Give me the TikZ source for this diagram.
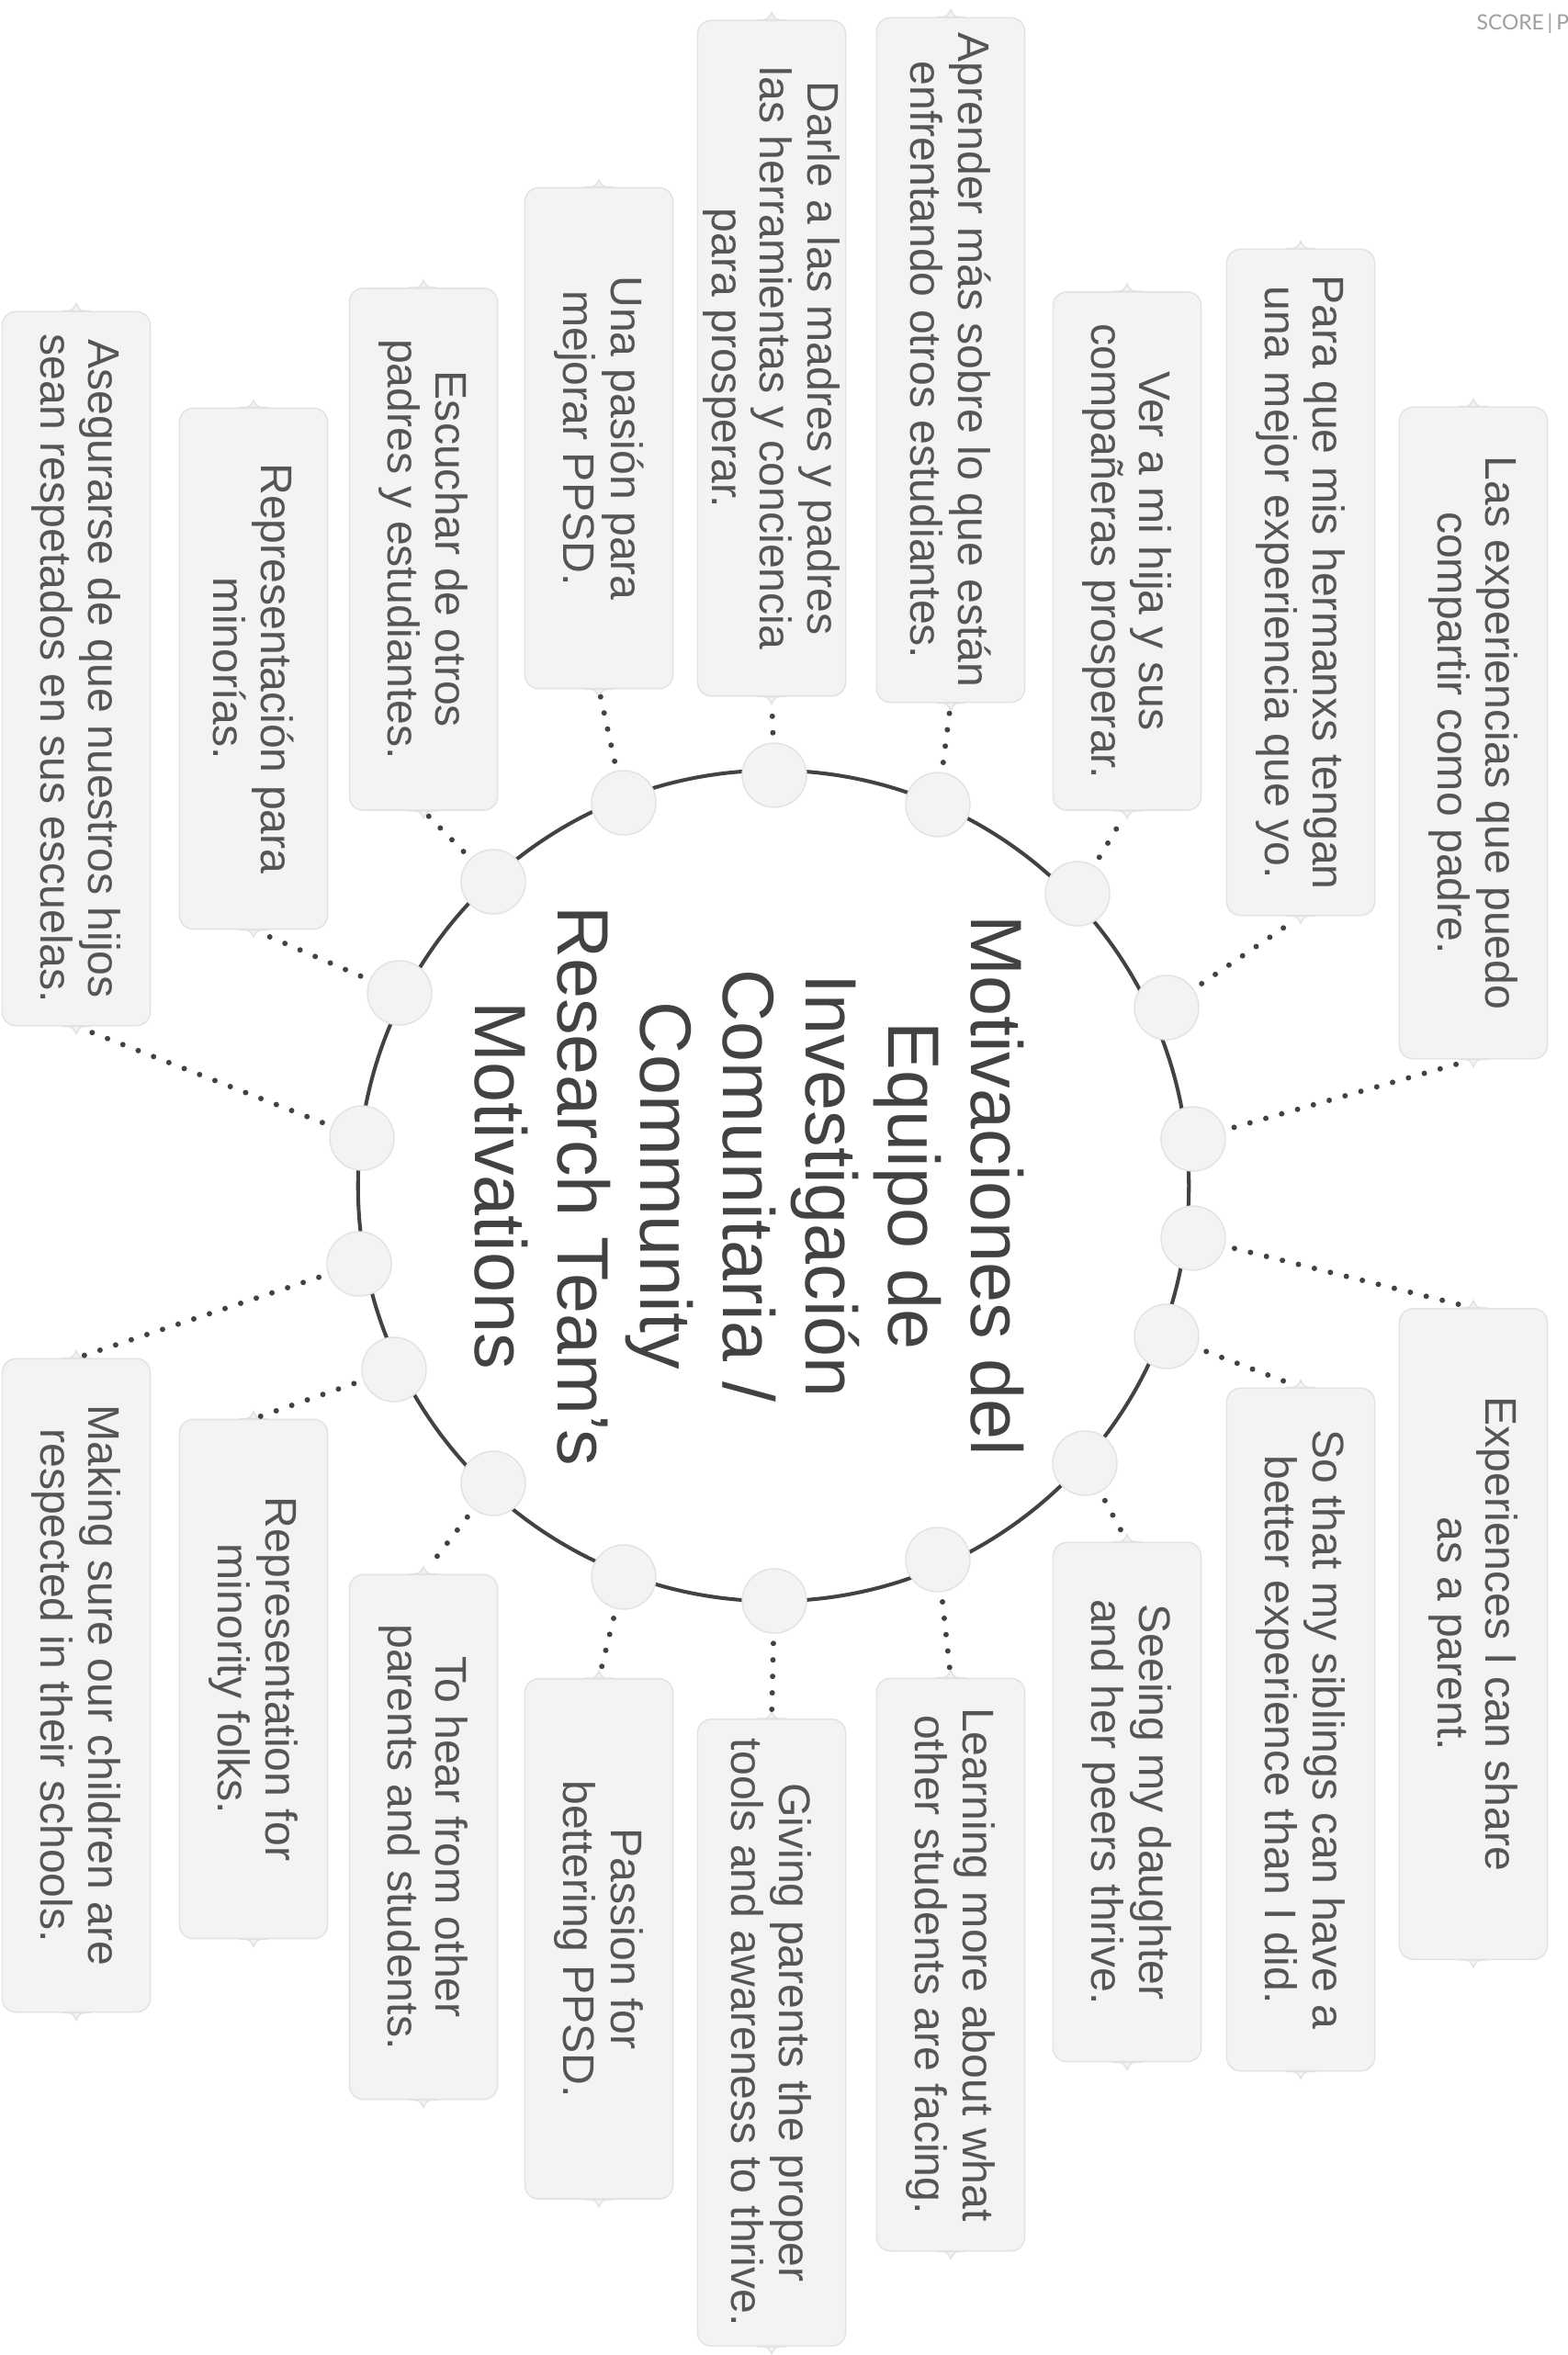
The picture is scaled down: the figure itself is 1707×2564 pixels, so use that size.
\documentclass[tikz,border=0pt]{standalone}
\usepackage{fontspec}
\setmainfont{Liberation Sans}
\newfontfamily\markfont{Lato}
\definecolor{boxfill}{HTML}{F3F3F3}
\definecolor{boxline}{HTML}{E2E2E2}
\definecolor{inkgray}{HTML}{424242}
\definecolor{txtgray}{HTML}{555555}
\tikzset{
  motive/.style={draw=boxline, fill=boxfill, rounded corners=0.15cm, rotate=-90,
    minimum height=1.61cm, inner sep=0pt, align=center, text=txtgray,
    font=\fontsize{13.7}{14.8}\selectfont},
  hub/.style={circle, draw=boxline, fill=boxfill, minimum size=0.7cm, inner sep=0pt},
  link/.style={draw=inkgray, line width=1.7pt, line cap=round,
    dash pattern=on 0pt off 5.1pt, shorten <=3pt, shorten >=2pt},
}
\begin{document}
\begin{tikzpicture}[x=0.01cm, y=-0.01cm]
         \useasboundingbox (0,0) rectangle (1707,2564);
         \fill[white] (0,0) rectangle (1707,2564);
         %nodes
         \node[circle, draw=inkgray, line width=1.15pt, minimum size=9.04cm] at (842,1291) (ring) {};
         \node[rotate=-90, align=center, text=inkgray, font=\fontsize{22.5}{25.6}\selectfont] at (816,1291) (title)
           {Motivaciones del\\ Equipo de\\ Investigación\\ Comunitaria /\\ Community\\ Research Team’s\\ Motivations};
         \node[anchor=west, inner sep=0pt, text=gray!75, font=\markfont\fontsize{6.5}{7}\selectfont] at (1607,26) (mark) {SCORE\,|\,P};
         % motives in spanish
         \node[motive, minimum width=7.09cm] at (1604,798) (s1) {Las experiencias que puedo\\ compartir como padre.};
         \node[motive, minimum width=7.25cm] at (1416,634) (s2) {Para que mis hermanxs tengan\\ una mejor experiencia que yo.};
         \node[motive, minimum width=5.64cm] at (1227,600) (s3) {Ver a mi hija y sus\\ compañeras prosperar.};
         \node[motive, minimum width=7.45cm] at (1035,392) (s4) {Aprender más sobre lo que están\\ enfrentando otros estudiantes.};
         \node[motive, minimum width=7.35cm] at (840,390) (s5) {Darle a las madres y padres\\ las herramientas y conciencia\\ para prosperar.};
         \node[motive, minimum width=5.45cm] at (652,477) (s6) {Una pasión para\\ mejorar PPSD.};
         \node[motive, minimum width=5.68cm] at (461,598) (s7) {Escuchar de otros\\ padres y estudiantes.};
         \node[motive, minimum width=5.67cm] at (276,728) (s8) {Representación para\\ minorías.};
         \node[motive, minimum width=7.77cm] at (83,728) (s9) {Asegurarse de que nuestros hijos\\ sean respetados en sus escuelas.};
         % motives in english
         \node[motive, minimum width=7.08cm] at (1604,1779) (e1) {Experiences I can share\\ as a parent.};
         \node[motive, minimum width=7.43cm] at (1416,1883) (e2) {So that my siblings can have a\\ better experience than I did.};
         \node[motive, minimum width=5.65cm] at (1227,1962) (e3) {Seeing my daughter\\ and her peers thrive.};
         \node[motive, minimum width=6.23cm] at (1035,2139) (e4) {Learning more about what\\ other students are facing.};
         \node[motive, minimum width=6.82cm] at (840,2213) (e5) {Giving parents the proper\\ tools and awareness to thrive.};
         \node[motive, minimum width=5.66cm] at (652,2111) (e6) {Passion for\\ bettering PPSD.};
         \node[motive, minimum width=5.71cm] at (461,2000) (e7) {To hear from other\\ parents and students.};
         \node[motive, minimum width=5.65cm] at (276,1828) (e8) {Representation for\\ minority folks.};
         \node[motive, minimum width=7.11cm] at (83,1835) (e9) {Making sure our children are\\ respected in their schools.};
         % little tips on the box ends
         \foreach \b in {s1,s2,s3,s4,s5,s6,s7,s8,s9,e1,e2,e3,e4,e5,e6,e7,e8,e9}{
           \filldraw[fill=boxfill, draw=boxline] ([xshift=-0.16cm]\b.west) .. controls ([xshift=-0.04cm]\b.west) .. ([yshift=0.08cm]\b.west)
             .. controls ([xshift=0.04cm]\b.west) .. ([xshift=0.16cm]\b.west) -- cycle;
           \filldraw[fill=boxfill, draw=boxline] ([xshift=-0.16cm]\b.east) .. controls ([xshift=-0.04cm]\b.east) .. ([yshift=-0.08cm]\b.east)
             .. controls ([xshift=0.04cm]\b.east) .. ([xshift=0.16cm]\b.east) -- cycle;
         }
         % dots on the ring
         \node[hub] at (1299,1240) (ds1) {};
         \node[hub] at (1270,1097) (ds2) {};
         \node[hub] at (1173,973) (ds3) {};
         \node[hub] at (1021,876) (ds4) {};
         \node[hub] at (843,844) (ds5) {};
         \node[hub] at (679,874) (ds6) {};
         \node[hub] at (537,960) (ds7) {};
         \node[hub] at (435,1081) (ds8) {};
         \node[hub] at (394,1239) (ds9) {};
         \node[hub] at (1299,1348) (de1) {};
         \node[hub] at (1270,1455) (de2) {};
         \node[hub] at (1181,1593) (de3) {};
         \node[hub] at (1021,1698) (de4) {};
         \node[hub] at (843,1743) (de5) {};
         \node[hub] at (679,1717) (de6) {};
         \node[hub] at (537,1615) (de7) {};
         \node[hub] at (429,1491) (de8) {};
         \node[hub] at (391,1376) (de9) {};
         % dotted links between nodes
         \draw[link] (ds1) -- (s1.east); \draw[link] (ds2) -- (s2.east); \draw[link] (ds3) -- (s3.east);
         \draw[link] (ds4) -- (s4.east); \draw[link] (ds5) -- (s5.east); \draw[link] (ds6) -- (s6.east);
         \draw[link] (ds7) -- (s7.east); \draw[link] (ds8) -- (s8.east); \draw[link] (ds9) -- (s9.east);
         \draw[link] (de1) -- (e1.west); \draw[link] (de2) -- (e2.west); \draw[link] (de3) -- (e3.west);
         \draw[link] (de4) -- (e4.west); \draw[link] (de5) -- (e5.west); \draw[link] (de6) -- (e6.west);
         \draw[link] (de7) -- (e7.west); \draw[link] (de8) -- (e8.west); \draw[link] (de9) -- (e9.west);
        \end{tikzpicture}
\end{document}
